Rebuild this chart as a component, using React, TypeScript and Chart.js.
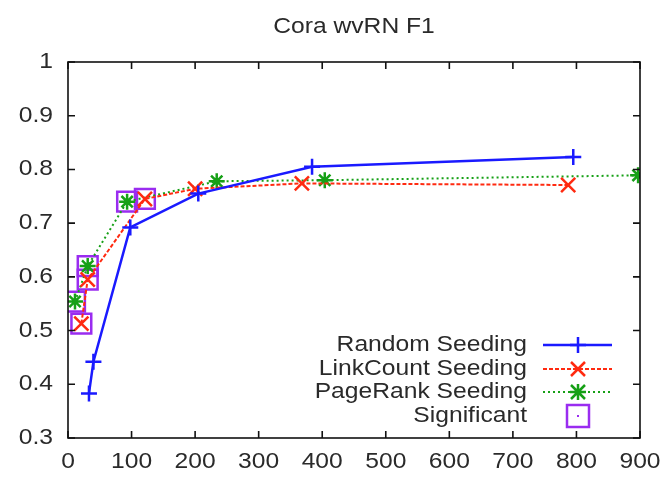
import React, { useEffect, useRef } from "react";
import { Chart, registerables } from "chart.js";

Chart.register(...registerables);

const TITLE = "Cora wvRN F1";
const seriesNames = ["Random Seeding", "LinkCount Seeding", "PageRank Seeding", "Significant"];

const randomX = [33, 40, 98, 205, 384, 795];
const randomY = [0.383, 0.442, 0.692, 0.755, 0.805, 0.823];
const linkX = [21, 31, 121, 200, 368, 787];
const linkY = [0.513, 0.595, 0.745, 0.764, 0.774, 0.771];
const pageX = [11, 31, 93, 234, 404, 897];
const pageY = [0.554, 0.62, 0.74, 0.778, 0.78, 0.789];
const sigX = [11, 21, 31, 31, 93, 121];
const sigY = [0.554, 0.513, 0.62, 0.595, 0.74, 0.745];

const xTicks = [0, 100, 200, 300, 400, 500, 600, 700, 800, 900];
const yTicks = [0.3, 0.4, 0.5, 0.6, 0.7, 0.8, 0.9, 1];
const xTickLabels = ["0", "100", "200", "300", "400", "500", "600", "700", "800", "900"];
const yTickLabels = ["0.3", "0.4", "0.5", "0.6", "0.7", "0.8", "0.9", "1"];

const BLUE = "#1a1aff";
const RED = "#ff2a10";
const GREEN = "#16a016";
const PURPLE = "#9a2cf0";
const TEXT = "#2a2a2a";
const FONT = "Liberation Sans";
const FS = 22;
const STRETCH = 1.12;

const zip = (xs: number[], ys: number[]) => xs.map((x, i) => ({ x, y: ys[i] }));

function stretchedText(ctx: CanvasRenderingContext2D, text: string, x: number, y: number, align: CanvasTextAlign) {
  ctx.save();
  ctx.translate(x, y);
  ctx.scale(STRETCH, 1);
  ctx.textAlign = align;
  ctx.textBaseline = "middle";
  ctx.fillText(text, 0, 0);
  ctx.restore();
}

function drawMarker(ctx: CanvasRenderingContext2D, kind: string, x: number, y: number, color: string) {
  ctx.save();
  ctx.strokeStyle = color;
  ctx.fillStyle = color;
  ctx.setLineDash([]);
  ctx.lineWidth = 2.5;
  ctx.beginPath();
  if (kind === "plus" || kind === "star") {
    ctx.moveTo(x - 8, y); ctx.lineTo(x + 8, y);
    ctx.moveTo(x, y - 8); ctx.lineTo(x, y + 8);
  }
  if (kind === "x" || kind === "star") {
    ctx.moveTo(x - 7, y - 7); ctx.lineTo(x + 7, y + 7);
    ctx.moveTo(x - 7, y + 7); ctx.lineTo(x + 7, y - 7);
  }
  ctx.stroke();
  if (kind === "box") {
    ctx.lineWidth = 2.5;
    ctx.strokeRect(x - 11, y - 11, 22, 22);
    ctx.fillRect(x - 1, y - 1, 2, 2);
  }
  ctx.restore();
}

const framePlugin = {
  id: "frame",
  afterDraw(chart: any) {
    const { ctx, chartArea: a, scales } = chart;
    const xs = scales.x, ys = scales.y;
    ctx.save();
    ctx.fillStyle = TEXT;
    ctx.font = `${FS}px "${FONT}"`;
    // title
    stretchedText(ctx, TITLE, (a.left + a.right) / 2, 27, "center");
    // tick labels
    xTicks.forEach((v, i) => stretchedText(ctx, xTickLabels[i], xs.getPixelForValue(v), 462, "center"));
    yTicks.forEach((v, i) => stretchedText(ctx, yTickLabels[i], 53, ys.getPixelForValue(v), "right"));
    // frame + ticks
    ctx.strokeStyle = "#111";
    ctx.lineWidth = 1.6;
    ctx.strokeRect(a.left, a.top, a.right - a.left, a.bottom - a.top);
    ctx.beginPath();
    const tl = 7;
    xTicks.forEach((v) => {
      const px = xs.getPixelForValue(v);
      ctx.moveTo(px, a.bottom); ctx.lineTo(px, a.bottom - tl);
      ctx.moveTo(px, a.top); ctx.lineTo(px, a.top + tl);
    });
    yTicks.forEach((v) => {
      const py = ys.getPixelForValue(v);
      ctx.moveTo(a.left, py); ctx.lineTo(a.left + tl, py);
      ctx.moveTo(a.right, py); ctx.lineTo(a.right - tl, py);
    });
    ctx.stroke();
    // legend
    const rows = [
      { name: seriesNames[0], color: BLUE, dash: [] as number[], marker: "plus" },
      { name: seriesNames[1], color: RED, dash: [4, 2], marker: "x" },
      { name: seriesNames[2], color: GREEN, dash: [2, 3], marker: "star" },
      { name: seriesNames[3], color: PURPLE, dash: null, marker: "box" },
    ];
    const rowY = [345, 369, 392, 416];
    const textRight = 527;
    const lineL = 543, lineR = 612, mx = 578;
    rows.forEach((r, i) => {
      const y = rowY[i];
      ctx.fillStyle = TEXT;
      stretchedText(ctx, r.name, textRight, y, "right");
      if (r.dash) {
        ctx.save();
        ctx.strokeStyle = r.color;
        ctx.lineWidth = r.marker === "plus" ? 2.5 : 2;
        ctx.setLineDash(r.dash);
        ctx.beginPath();
        ctx.moveTo(lineL, y); ctx.lineTo(lineR, y);
        ctx.stroke();
        ctx.restore();
      }
      drawMarker(ctx, r.marker, mx, y, r.color);
    });
    ctx.restore();
  },
};

export default function App() {
  const ref = useRef<HTMLCanvasElement | null>(null);
  useEffect(() => {
    if (!ref.current) return;
    const chart = new Chart(ref.current, {
      type: "scatter",
      data: {
        datasets: [
          {
            label: seriesNames[0],
            data: zip(randomX, randomY),
            showLine: true,
            borderColor: BLUE,
            backgroundColor: BLUE,
            borderWidth: 2.5,
            pointStyle: "cross",
            pointRadius: 8,
            pointBorderWidth: 2.5,
            pointBorderColor: BLUE,
          },
          {
            label: seriesNames[1],
            data: zip(linkX, linkY),
            showLine: true,
            borderColor: RED,
            backgroundColor: RED,
            borderWidth: 2,
            borderDash: [4, 2],
            pointStyle: "crossRot",
            pointRadius: 10,
            pointBorderWidth: 2.5,
            pointBorderColor: RED,
          },
          {
            label: seriesNames[2],
            data: zip(pageX, pageY),
            showLine: true,
            borderColor: GREEN,
            backgroundColor: GREEN,
            borderWidth: 2,
            borderDash: [2, 3],
            pointStyle: "star",
            pointRadius: 8,
            pointBorderWidth: 2.5,
            pointBorderColor: GREEN,
          },
          {
            label: seriesNames[3],
            data: zip(sigX, sigY),
            showLine: false,
            borderColor: PURPLE,
            backgroundColor: "rgba(0,0,0,0)",
            pointStyle: "rect",
            pointRadius: 14,
            pointBorderWidth: 2.5,
            pointBorderColor: PURPLE,
          },
        ],
      },
      options: {
        responsive: false,
        animation: false,
        events: [],
        layout: { padding: { top: 62, right: 32, left: 0, bottom: 0 } },
        plugins: { legend: { display: false }, title: { display: false }, tooltip: { enabled: false } },
        scales: {
          x: {
            type: "linear",
            min: 0,
            max: 900,
            grid: { display: false },
            border: { display: false },
            afterFit: (s: any) => { s.height = 39; },
            ticks: { display: false },
          },
          y: {
            type: "linear",
            min: 0.3,
            max: 1,
            grid: { display: false },
            border: { display: false },
            afterFit: (s: any) => { s.width = 68; },
            ticks: { display: false },
          },
        },
      },
      plugins: [framePlugin],
    } as any);
    return () => chart.destroy();
  }, []);
  return (
    <div style={{ position: "fixed", left: 0, top: 0, width: 672, height: 477, background: "#fff" }}>
      <canvas ref={ref} width={672} height={477} style={{ display: "block" }} />
    </div>
  );
}
